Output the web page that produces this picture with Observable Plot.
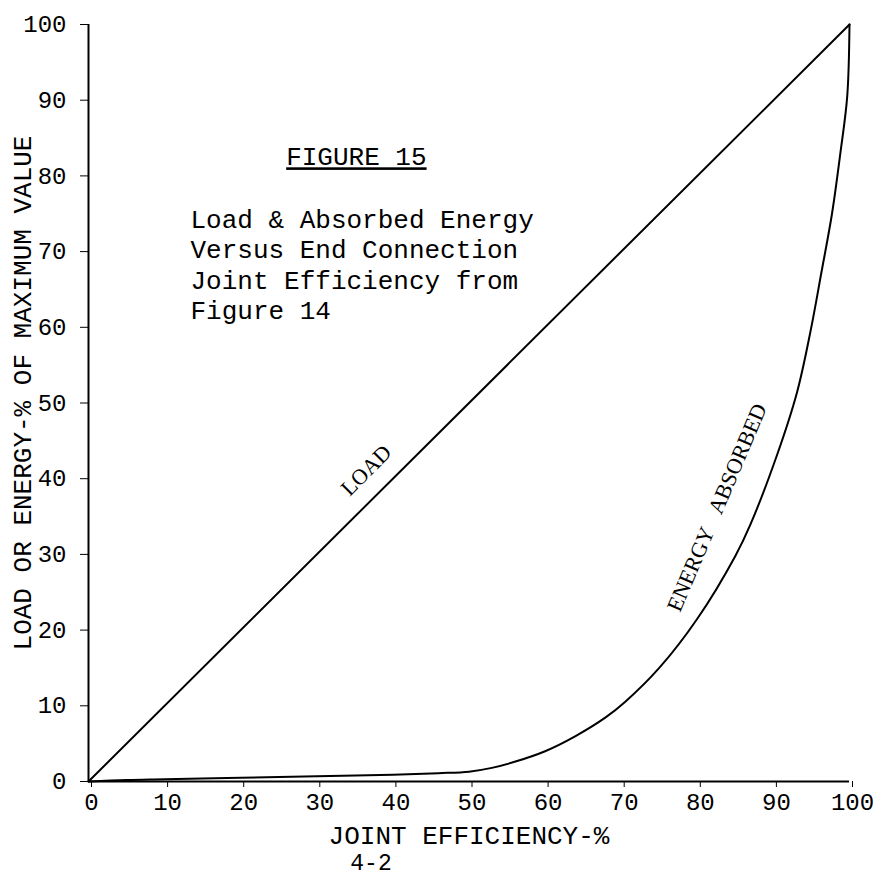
<!DOCTYPE html>
<html>
<head>
<meta charset="utf-8">
<script src="https://cdn.jsdelivr.net/npm/d3@7"></script>
<script src="https://cdn.jsdelivr.net/npm/@observablehq/plot@0.6"></script>
<style>
  html, body { margin: 0; padding: 0; background: #fff; }
</style>
</head>
<body>
<div id="chart"></div>
<script>
// ---- data ----
const xTicks = [0, 10, 20, 30, 40, 50, 60, 70, 80, 90, 100];
const yTicks = [0, 10, 20, 30, 40, 50, 60, 70, 80, 90, 100];

const loadEff = [0, 100];
const loadVal = [0, 100];

const energyEff = [0, 5, 10, 20, 30, 40, 46, 50, 53, 56, 60, 64, 68, 70.5, 75, 80, 85, 87, 90.5, 93.1, 94.9, 96.3, 97.7, 98.8, 99.7, 100];
const energyVal = [0, 0.2, 0.3, 0.5, 0.7, 0.9, 1.1, 1.3, 1.8, 2.6, 4.0, 6.0, 8.5, 10.5, 15, 21.5, 29.8, 34.0, 43.2, 51.4, 59.6, 67.2, 75, 83, 90.5, 100];

const xLabel = "JOINT EFFICIENCY-%";
const yLabel = "LOAD OR ENERGY-% OF MAXIMUM VALUE";
const pageNo = "4-2";
const figTitle = "FIGURE 15";
const figText = "Load & Absorbed Energy\nVersus End Connection\nJoint Efficiency from\nFigure 14";
const curveLabels = ["LOAD", "ENERGY\u00a0\u00a0\u00a0ABSORBED"];
const curveLabelX = [36.5, 82.6];
const curveLabelY = [41.1, 36.2];
const curveLabelAngle = [-45, -67];

// ---- tables ----
const load = loadEff.map((x, i) => ({x, y: loadVal[i]}));
const energy = energyEff.map((x, i) => ({x, y: energyVal[i]}));
const labels = curveLabels.map((t, i) => ({t, x: curveLabelX[i], y: curveLabelY[i], a: curveLabelAngle[i]}));

const mono = "Liberation Mono, Courier New, monospace";

const chart = Plot.plot({
  width: 888,
  height: 878,
  marginLeft: 88,
  marginRight: 39,
  marginTop: 24,
  marginBottom: 97,
  x: {domain: [0, 100]},
  y: {domain: [0, 100]},
  style: {fontFamily: mono, background: "white", color: "black"},
  marks: [
    Plot.axisX({ticks: xTicks, tickSize: 6, tickPadding: 5, fontSize: 24, dx: 3, label: null, tickFormat: d => d}),
    Plot.axisY({ticks: yTicks, tickSize: 8, tickPadding: 14, fontSize: 24, label: null, tickFormat: d => d}),
    Plot.ruleX([0], {strokeWidth: 2}),
    Plot.ruleY([0], {strokeWidth: 2}),
    Plot.line(load, {x: "x", y: "y", stroke: "black", strokeWidth: 2}),
    Plot.line(energy, {x: "x", y: "y", stroke: "black", strokeWidth: 2, curve: "catmull-rom"}),
    Plot.text([xLabel], {text: d => d, frameAnchor: "bottom", dy: 54, fontSize: 26, lineAnchor: "middle", textAnchor: "middle"}),
    Plot.text([yLabel], {text: d => d, frameAnchor: "left", dx: -66, dy: -10, rotate: -90, fontSize: 26, lineAnchor: "middle", textAnchor: "middle"}),
    Plot.text([pageNo], {text: d => d, frameAnchor: "bottom", dx: -98, dy: 81, fontSize: 23, lineAnchor: "middle", textAnchor: "middle"}),
    Plot.text([figTitle], {text: d => d, x: 35.2, y: 82.5, fontSize: 26, lineAnchor: "middle", textAnchor: "middle"}),
    Plot.text([figText], {text: d => d, x: 13.4, y: 76.0, fontSize: 26, lineAnchor: "top", textAnchor: "start", lineHeight: 1.17}),
    Plot.text(labels, {x: "x", y: "y", text: "t", rotate: "a", fontSize: 22, fontFamily: "Liberation Serif, Times New Roman, serif", lineAnchor: "middle", textAnchor: "middle"})
  ]
});

d3.select(chart).selectAll("text").filter(function() { return this.textContent === figTitle; })
  .attr("text-decoration", "underline");

document.getElementById("chart").appendChild(chart);
</script>
</body>
</html>
